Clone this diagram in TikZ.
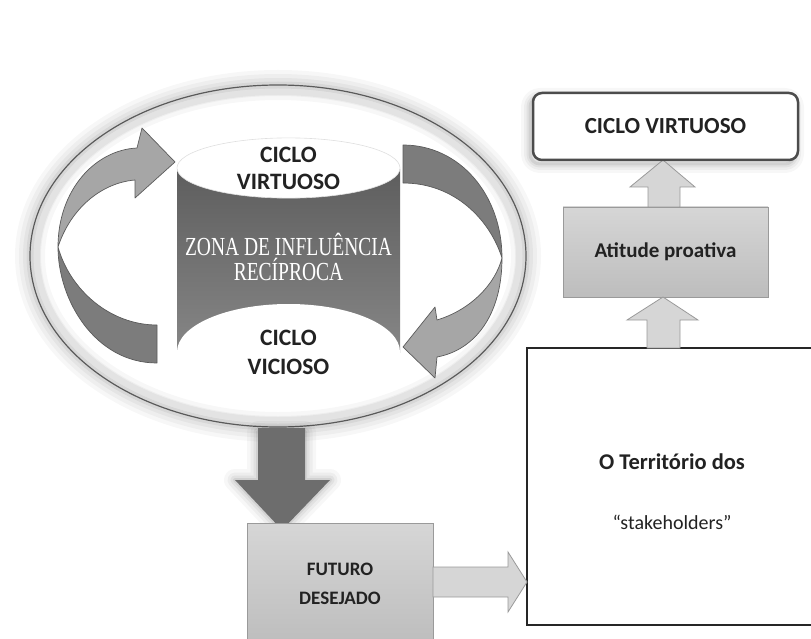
\documentclass[tikz,border=0pt]{standalone}
\usepackage{fontspec}
\setmainfont{Carlito}
\newfontfamily\zonafont[FakeStretch=0.75]{Liberation Serif}
\usetikzlibrary{shapes.geometric}
\definecolor{darkarr}{HTML}{7C7C7C}
\definecolor{lightarr}{HTML}{A6A6A6}
\definecolor{downarr}{HTML}{6D6D6D}
\definecolor{edgegrey}{HTML}{5A5A5A}
\definecolor{boxedge}{HTML}{9A9A9A}
\definecolor{boxtop}{HTML}{D6D6D6}
\definecolor{boxbot}{HTML}{BDBDBD}
\definecolor{bodytop}{HTML}{5E5E5E}
\definecolor{bodybot}{HTML}{868686}
\definecolor{txt}{HTML}{222222}
\tikzset{
  lbl/.style={font=\fontsize{23.5}{27}\selectfont\bfseries, text=txt, align=center},
  greybox/.style={draw=boxedge, line width=0.8pt, top color=boxtop, bottom color=boxbot, inner sep=0pt},
  curvarr/.style={draw=edgegrey, line width=0.7pt, line join=round},
  blockarr/.style={draw=boxedge, line width=0.8pt, fill=boxtop, line join=miter},
  glowline/.style={black, line join=round},
}
\begin{document}
\begin{tikzpicture}[x=1pt,y=-1pt]
\useasboundingbox (0,0) rectangle (811,639);

% ---- big ring (ellipse) with glow
\foreach \w/\o in {30/0.03,22/0.035,14/0.045,7/0.06}
  \draw[glowline, line width=\w pt, opacity=\o] (278,256) ellipse [x radius=248, y radius=171];
\draw[line width=6pt, gray!22] (278,256) ellipse [x radius=241, y radius=164];
\node[ellipse, draw=edgegrey, line width=1.2pt, minimum width=496pt, minimum height=342pt, inner sep=0pt] (ring) at (278,256) {};

% ---- cylinder
\shade[top color=bodytop, bottom color=bodybot] (177,170) rectangle (400,352);
\node[ellipse, fill=white, draw=gray!25, line width=0.6pt, minimum width=223pt, minimum height=54pt, inner sep=0pt, lbl] (cvtop) at (288.5,168) {CICLO\\VIRTUOSO};
\node[ellipse, fill=white, minimum width=223pt, minimum height=96pt, inner sep=0pt, lbl, font=\fontsize{23.5}{29}\selectfont\bfseries] (cvbot) at (288.5,352) {CICLO\\VICIOSO};
\node[text=white, align=center, font=\zonafont\fontsize{26}{25}\selectfont] (zona) at (288.5,257) {ZONA DE INFLUÊNCIA\\RECÍPROCA};

% ---- left curved arrow
\filldraw[curvarr, fill=darkarr] (157,325) .. controls (110,325) and (70,290) .. (58,247)
   .. controls (58,300) and (95,363) .. (157,363) -- cycle;
\filldraw[curvarr, fill=lightarr] (58,247) .. controls (58,190) and (95,150) .. (137,148)
   -- (142,128) -- (175,162) -- (135,198) -- (135,180)
   .. controls (100,183) and (70,210) .. (58,247) -- cycle;

% ---- right curved arrow
\filldraw[curvarr, fill=darkarr] (403,145) .. controls (460,145) and (502,195) .. (502,258)
   .. controls (490,220) and (455,183) .. (403,183) -- cycle;
\filldraw[curvarr, fill=lightarr] (502,258) .. controls (502,315) and (475,350) .. (437,357)
   -- (435,378) -- (403,347) -- (435,307) -- (437,320)
   .. controls (470,310) and (495,285) .. (502,258) -- cycle;

% ---- down arrow with glow
\foreach \w/\o in {22/0.03,15/0.04,9/0.05,4/0.07}
  \draw[glowline, line width=\w pt, opacity=\o] (258,432) -- (305,432) -- (305,480) -- (330,480) -- (282,530) -- (235,480) -- (258,480) -- cycle;
\fill[downarr] (258,428) -- (305,428) -- (305,480) -- (330,480) -- (282,530) -- (235,480) -- (258,480) -- cycle;

% ---- FUTURO DESEJADO
\node[greybox, minimum width=186pt, minimum height=122pt, lbl, font=\fontsize{19}{29}\selectfont\bfseries] (futuro) at (340,584) {FUTURO\\DESEJADO};

% ---- territory box
\node[draw=black!85, line width=2pt, fill=white, minimum width=290pt, minimum height=277pt] (terr) at (672,486.5) {};
\node[lbl, font=\fontsize{22.5}{60}\selectfont] (terrtxt) at (672,492) {\textbf{O Território dos}\\{\fontsize{20}{60}\selectfont “stakeholders”}};

% ---- arrow futuro -> territory
\filldraw[blockarr] (433,567) -- (508,567) -- (508,552) -- (527,582) -- (508,612) -- (508,597) -- (433,597) -- cycle;

% ---- Atitude proativa
\node[greybox, minimum width=205pt, minimum height=90pt, lbl, font=\fontsize{21}{25}\selectfont\bfseries] (atit) at (665.5,252) {Atitude proativa};

% ---- arrows up
\filldraw[blockarr] (647,348) -- (647,320) -- (627,320) -- (663,297) -- (698,320) -- (680,320) -- (680,348) -- cycle;

% ---- CICLO VIRTUOSO box with shadow
\foreach \w/\o in {18/0.03,12/0.04,7/0.05,3/0.07}
  \draw[glowline, line width=\w pt, opacity=\o, rounded corners=10pt] (530,97) rectangle (795,164);
\filldraw[blockarr] (648,207) -- (648,187) -- (630,187) -- (663,160) -- (695,187) -- (680,187) -- (680,207) -- cycle;
\node[draw=black!70, line width=2.5pt, fill=white, rounded corners=9pt, minimum width=265pt, minimum height=67pt, lbl, font=\fontsize{23}{27}\selectfont\bfseries] (cvbox) at (665.5,126.5) {CICLO VIRTUOSO};
\end{tikzpicture}
\end{document}
